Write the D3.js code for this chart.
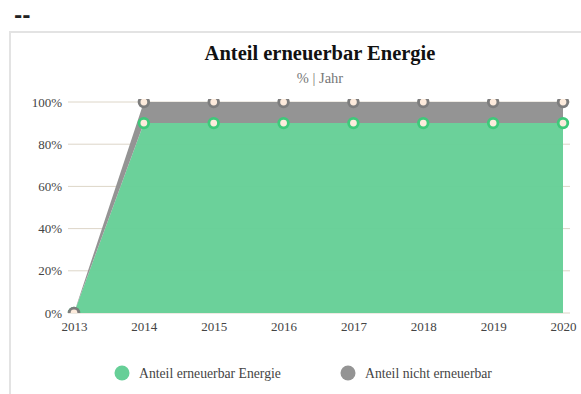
<!DOCTYPE html>
<html>
<head>
<meta charset="utf-8">
<script src="https://cdn.jsdelivr.net/npm/d3@7"></script>
<style>
  html, body { margin: 0; padding: 0; background: #fff; }
  svg { display: block; }
</style>
</head>
<body>
<svg id="chart" width="581" height="394"></svg>
<script>
// Jahre und Anteile (Prozent)
const years = ["2013", "2014", "2015", "2016", "2017", "2018", "2019", "2020"];
const erneuerbar = [0, 90, 90, 90, 90, 90, 90, 90];
const nichtErneuerbar = [0, 10, 10, 10, 10, 10, 10, 10];
const yTicks = [0, 20, 40, 60, 80, 100];
const seriesNames = ["Anteil erneuerbar Energie", "Anteil nicht erneuerbar"];
const seriesColors = ["#66cf97", "#949494"];

const svg = d3.select("#chart");
const serif = "'Liberation Serif', 'Times New Roman', serif";

// Überschrift oberhalb des Rahmens
svg.append("text").attr("x", 14).attr("y", 22)
  .attr("font-family", "'DejaVu Sans', sans-serif").attr("font-weight", "bold")
  .attr("font-size", 20).attr("fill", "#222").text("--");

// Rahmen
svg.append("rect").attr("x", 10).attr("y", 32).attr("width", 600).attr("height", 400)
  .attr("fill", "#fff").attr("stroke", "#e3e3e3").attr("stroke-width", 2);

// Titel
svg.append("text").attr("x", 320).attr("y", 60).attr("text-anchor", "middle")
  .attr("font-family", serif).attr("font-weight", "bold").attr("font-size", 20.5)
  .attr("fill", "#111").text("Anteil erneuerbar Energie");
svg.append("text").attr("x", 320).attr("y", 83).attr("text-anchor", "middle")
  .attr("font-family", serif).attr("font-size", 14.5)
  .attr("fill", "#777").text("% | Jahr");

const x = d3.scalePoint().domain(years).range([74, 563]);
const y = d3.scaleLinear().domain([0, 100]).range([313, 102]);

// Gitterlinien
const grid = svg.append("g");
grid.selectAll("line").data(yTicks).join("line")
  .attr("x1", 68).attr("x2", 570)
  .attr("y1", d => y(d)).attr("y2", d => y(d))
  .attr("stroke", "#ddd6c8").attr("stroke-width", 1);

// Y-Achse
const yAxis = svg.append("g").attr("transform", "translate(66,0)")
  .call(d3.axisLeft(y).tickValues(yTicks).tickSize(0).tickPadding(4).tickFormat(d => d + "%"));
yAxis.select(".domain").remove();
yAxis.selectAll("text").attr("font-family", serif).attr("font-size", 13).attr("fill", "#444");

// X-Achse
const xAxis = svg.append("g").attr("transform", "translate(0,313)")
  .call(d3.axisBottom(x).tickSize(0).tickPadding(9));
xAxis.select(".domain").remove();
xAxis.selectAll("text").attr("font-family", serif).attr("font-size", 13).attr("fill", "#444");

// Gestapelte Flächen
const rows = years.map((yr, i) => ({ year: yr, a: erneuerbar[i], b: nichtErneuerbar[i] }));
const stack = d3.stack().keys(["a", "b"])(rows);

svg.append("clipPath").attr("id", "plot")
  .append("rect").attr("x", 60).attr("y", 99).attr("width", 515).attr("height", 214);

const plot = svg.append("g").attr("clip-path", "url(#plot)");
const area = d3.area()
  .x(d => x(d.data.year))
  .y0(d => y(d[0]))
  .y1(d => y(d[1]));

plot.selectAll("path.area").data(stack).join("path")
  .attr("class", "area")
  .attr("d", area)
  .attr("fill", (d, i) => seriesColors[i])
  .attr("fill-opacity", (d, i) => i === 0 ? 0.97 : 1);

// Punkte (grüne zuerst, graue darüber)
stack.forEach((s) => {
  const idx = s.index;
  plot.append("g").selectAll("circle").data(s).join("circle")
    .attr("cx", d => x(d.data.year))
    .attr("cy", d => y(d[1]))
    .attr("r", 4.8)
    .attr("fill", "#fdebdc")
    .attr("stroke", idx === 0 ? "#3ec97a" : "#7d7d7d")
    .attr("stroke-width", 2.8);
});

// Legende
const legend = svg.append("g");
const legendX = [122, 348];
seriesNames.forEach((name, i) => {
  legend.append("circle").attr("cx", legendX[i]).attr("cy", 373).attr("r", 7.5)
    .attr("fill", seriesColors[i]);
  legend.append("text").attr("x", legendX[i] + 17).attr("y", 377.5)
    .attr("font-family", serif).attr("font-size", 13.7).attr("fill", "#444").text(name);
});
</script>
</body>
</html>
